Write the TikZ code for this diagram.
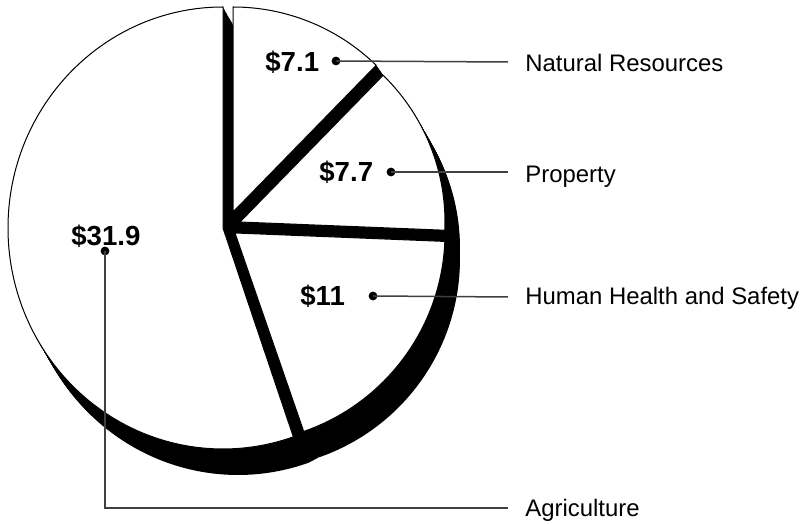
\documentclass[tikz,border=0pt]{standalone}
\usepackage{fontspec}
\setmainfont{Liberation Sans}
\usepackage{tikz}
\usetikzlibrary{calc}

% slice: apex, start angle, end angle, x radius, y radius
\newcommand{\pieslice}[5]{(#1) -- ++(#2:#4 and #5) arc[start angle=#2, end angle=#3, x radius=#4, y radius=#5] -- cycle}
% the dark gaps between the slices
\newcommand{\gappath}{(233,312) -- (376.2,458.7) -- (383.2,448.7) -- (240,302) -- (444.8,293.8) -- (444.8,282.6) -- (235,291) -- (303.7,92.6) -- (293.3,87.1) -- (223,296) -- cycle}

\tikzset{
	sidefill/.style={fill=black},
	topface/.style={fill=white, draw=black, line width=0.5pt, line join=round},
	amount/.style={font=\bfseries\fontsize{13.8}{16}\selectfont, inner sep=0pt, anchor=base west},
	category/.style={font=\fontsize{11.95}{14}\selectfont, inner sep=0pt, anchor=base west},
	leader/.style={draw=black!75, line width=0.75pt},
	leaderdot/.style={circle, fill=black, inner sep=0pt, minimum size=4.4pt}
}

\begin{document}
\begin{tikzpicture}[x=0.5pt, y=0.5pt]
	\useasboundingbox (0,0) rectangle (805,524);

	% depth of the slices
	\foreach \k in {0,...,24}{
		\begin{scope}[shift={({0.625*\k},{-1.0833*\k})}]
			\fill[sidefill] \pieslice{223,296}{90}{289.1}{215}{221};
			\fill[sidefill] \pieslice{235,291}{-70.9}{-2.3}{210}{210};
			\fill[sidefill] \pieslice{240,302}{-2.3}{45.7}{205}{205};
			\fill[sidefill] \pieslice{233,312}{45.7}{90}{205}{205};
			\fill[sidefill] \gappath;
		\end{scope}
	}

	% top faces
	\filldraw[topface] \pieslice{223,296}{90}{289.1}{215}{221};
	\filldraw[topface] \pieslice{233,312}{45.7}{90}{205}{205};
	\filldraw[topface] \pieslice{240,302}{-2.3}{45.7}{205}{205};
	\filldraw[topface] \pieslice{235,291}{-70.9}{-2.3}{210}{210};

	% labels
	\node[amount] (natVal) at (265,452) {\$7.1};
	\node[amount] (propVal) at (319,342) {\$7.7};
	\node[amount] (healthVal) at (300,218) {\$11};
	\node[amount] (agriVal) at (71,278) {\$31.9};

	\node[category] (natName) at (525,452) {Natural Resources};
	\node[category] (propName) at (525,341) {Property};
	\node[category] (healthName) at (525,219) {Human Health and Safety};
	\node[category] (agriName) at (525,7) {Agriculture};

	\coordinate (natEnd) at (508,462);
	\coordinate (propEnd) at (508,352);
	\coordinate (healthEnd) at (508,227);
	\coordinate (agriBend) at (105,16);
	\coordinate (agriEnd) at (508,16);

	\node[leaderdot] (natDot) at (336,463) {};
	\node[leaderdot] (propDot) at (391,352) {};
	\node[leaderdot] (healthDot) at (373,228) {};
	\node[leaderdot] (agriDot) at (105,273) {};

	\draw[leader] (natDot.center) -- (natEnd);
	\draw[leader] (propDot.center) -- (propEnd);
	\draw[leader] (healthDot.center) -- (healthEnd);
	\draw[leader] (agriDot.center) -- (agriBend) -- (agriEnd);
\end{tikzpicture}
\end{document}
